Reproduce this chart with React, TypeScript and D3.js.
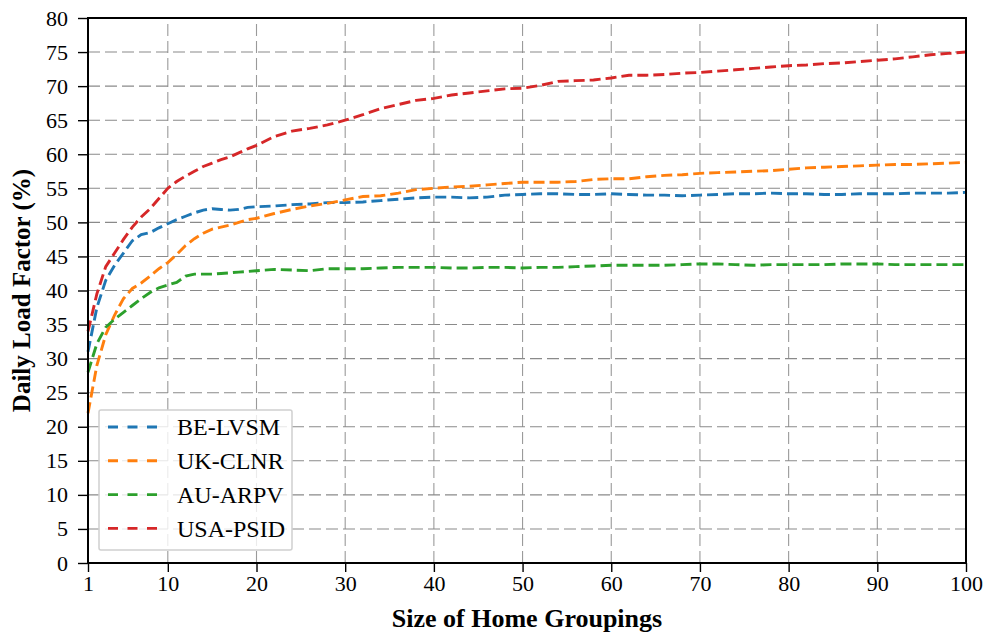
import React, { useEffect, useRef } from "react";
import * as d3 from "d3";

// Group sizes (x values) shared by all series
const groupSizes = [
  1, 2, 3, 4, 5, 6, 7, 8, 9, 10, 11, 12, 13, 14, 15, 16, 17, 18, 19, 20,
  22, 24, 26, 28, 30, 32, 34, 36, 38, 40, 42, 44, 46, 48, 50, 52, 54, 56, 58, 60,
  62, 64, 66, 68, 70, 72, 74, 76, 78, 80, 82, 84, 86, 88, 90, 92, 94, 96, 98, 100,
];

// Daily load factor (%) per dataset
const beLvsm = [
  31.0, 37.5, 41.5, 43.7, 45.5, 47.3, 48.2, 48.5, 49.2, 49.8, 50.4, 50.9, 51.4, 51.8, 52.0, 51.9, 51.8, 51.9, 52.2, 52.3,
  52.4, 52.6, 52.7, 52.9, 52.9, 53.0, 53.2, 53.4, 53.6, 53.7, 53.7, 53.6, 53.7, 54.0, 54.1, 54.2, 54.2, 54.1, 54.1, 54.2,
  54.1, 54.0, 54.0, 53.9, 54.0, 54.1, 54.2, 54.2, 54.3, 54.2, 54.2, 54.1, 54.1, 54.2, 54.2, 54.2, 54.3, 54.3, 54.3, 54.4,
];
const ukClnr = [
  22.0, 29.0, 33.5, 36.4, 38.8, 40.3, 41.1, 42.1, 43.2, 44.1, 45.3, 46.6, 47.6, 48.4, 49.0, 49.3, 49.6, 50.0, 50.4, 50.6,
  51.3, 51.9, 52.4, 52.8, 53.3, 53.8, 53.9, 54.3, 54.8, 55.0, 55.2, 55.3, 55.5, 55.7, 55.9, 55.9, 55.9, 56.0, 56.3, 56.4,
  56.4, 56.7, 56.9, 57.0, 57.2, 57.3, 57.4, 57.5, 57.6, 57.8, 58.0, 58.1, 58.2, 58.3, 58.4, 58.5, 58.5, 58.6, 58.7, 58.8,
];
const auArpv = [
  28.0, 32.2, 34.6, 35.8, 36.8, 37.8, 38.8, 39.7, 40.4, 40.8, 41.2, 42.1, 42.4, 42.4, 42.4, 42.5, 42.6, 42.7, 42.8, 42.9,
  43.1, 43.0, 42.9, 43.2, 43.2, 43.2, 43.3, 43.4, 43.4, 43.4, 43.3, 43.3, 43.4, 43.4, 43.3, 43.4, 43.4, 43.5, 43.6, 43.7,
  43.7, 43.7, 43.7, 43.8, 43.9, 43.9, 43.8, 43.7, 43.8, 43.8, 43.8, 43.8, 43.9, 43.9, 43.9, 43.8, 43.8, 43.8, 43.8, 43.8,
];
const usaPsid = [
  34.0, 39.5, 43.5, 45.5, 47.5, 49.3, 50.8, 52.0, 53.5, 55.0, 56.0, 56.8, 57.5, 58.2, 58.7, 59.2, 59.6, 60.2, 60.8, 61.3,
  62.6, 63.4, 63.8, 64.3, 65.0, 65.8, 66.7, 67.3, 67.9, 68.2, 68.7, 69.0, 69.3, 69.6, 69.7, 70.1, 70.7, 70.8, 70.9, 71.2,
  71.6, 71.6, 71.7, 71.9, 72.0, 72.2, 72.4, 72.6, 72.8, 73.0, 73.1, 73.3, 73.4, 73.6, 73.8, 74.0, 74.3, 74.6, 74.8, 75.0,
];

const seriesNames = ["BE-LVSM", "UK-CLNR", "AU-ARPV", "USA-PSID"];
const seriesValues = [beLvsm, ukClnr, auArpv, usaPsid];
const seriesColors = ["#1f77b4", "#ff7f0e", "#2ca02c", "#d62728"];

const xTicks = [1, 10, 20, 30, 40, 50, 60, 70, 80, 90, 100];
const yTicks = d3.range(0, 81, 5);

const W = 985;
const H = 634;
const M = { left: 88, right: 19, top: 18, bottom: 71 };
const FONT = "'Liberation Serif', 'Times New Roman', serif";

export default function App() {
  const ref = useRef<SVGSVGElement>(null);

  useEffect(() => {
    const svg = d3.select(ref.current);
    svg.selectAll("*").remove();

    const x = d3.scaleLinear().domain([1, 100]).range([M.left, W - M.right]);
    const y = d3.scaleLinear().domain([0, 80]).range([H - M.bottom, M.top]);

    const g = svg.append("g");

    // grid
    g.append("g")
      .selectAll("line")
      .data(xTicks)
      .join("line")
      .attr("x1", (d) => x(d))
      .attr("x2", (d) => x(d))
      .attr("y1", y(0))
      .attr("y2", y(80))
      .attr("stroke", "#9a9a9a")
      .attr("stroke-width", 1.1)
      .attr("stroke-dasharray", "12,5");
    g.append("g")
      .selectAll("line")
      .data(yTicks)
      .join("line")
      .attr("x1", x(1))
      .attr("x2", x(100))
      .attr("y1", (d) => y(d))
      .attr("y2", (d) => y(d))
      .attr("stroke", "#8a8a8a")
      .attr("stroke-width", 1.1)
      .attr("stroke-dasharray", "12,5");

    // series lines
    const line = d3
      .line<number>()
      .x((_, i) => x(groupSizes[i]))
      .y((d) => y(d));
    seriesValues.forEach((vals, i) => {
      g.append("path")
        .datum(vals)
        .attr("d", line)
        .attr("fill", "none")
        .attr("stroke", seriesColors[i])
        .attr("stroke-width", 2.9)
        .attr("stroke-dasharray", "11,5");
    });

    // axes
    const xAxis = g
      .append("g")
      .attr("transform", `translate(0,${y(0)})`)
      .call(d3.axisBottom(x).tickValues(xTicks).tickSize(9).tickSizeOuter(0).tickPadding(3));
    const yAxis = g
      .append("g")
      .attr("transform", `translate(${x(1)},0)`)
      .call(d3.axisLeft(y).tickValues(yTicks).tickSize(10).tickSizeOuter(0).tickPadding(10));
    [xAxis, yAxis].forEach((a) => {
      a.select(".domain").remove();
      a.selectAll("line").attr("stroke", "#000").attr("stroke-width", 1.4);
      a.selectAll("text").attr("font-family", FONT).attr("font-size", 22).attr("fill", "#000");
    });

    // frame
    g.append("rect")
      .attr("x", x(1))
      .attr("y", y(80))
      .attr("width", x(100) - x(1))
      .attr("height", y(0) - y(80))
      .attr("fill", "none")
      .attr("stroke", "#000")
      .attr("stroke-width", 2);

    // axis titles
    g.append("text")
      .attr("x", (x(1) + x(100)) / 2)
      .attr("y", 627)
      .attr("text-anchor", "middle")
      .attr("font-family", FONT)
      .attr("font-weight", "bold")
      .attr("font-size", 26)
      .text("Size of Home Groupings");
    g.append("text")
      .attr("transform", `translate(30,${(y(0) + y(80)) / 2}) rotate(-90)`)
      .attr("text-anchor", "middle")
      .attr("font-family", FONT)
      .attr("font-weight", "bold")
      .attr("font-size", 25)
      .text("Daily Load Factor (%)");

    // legend
    const lg = g.append("g").attr("transform", `translate(99,410)`);
    lg.append("rect")
      .attr("width", 193)
      .attr("height", 140)
      .attr("rx", 2)
      .attr("fill", "#fff")
      .attr("fill-opacity", 0.8)
      .attr("stroke", "#d0d0d0")
      .attr("stroke-width", 1.5);
    seriesNames.forEach((name, i) => {
      const cy = 17 + i * 33.8;
      lg.append("line")
        .attr("x1", 9)
        .attr("x2", 58)
        .attr("y1", cy)
        .attr("y2", cy)
        .attr("stroke", seriesColors[i])
        .attr("stroke-width", 2.9)
        .attr("stroke-dasharray", "10,9.5");
      lg.append("text")
        .attr("x", 78)
        .attr("y", cy)
        .attr("dy", "0.35em")
        .attr("font-family", FONT)
        .attr("font-size", 24)
        .text(name);
    });
  }, []);

  return (
    <svg
      ref={ref}
      width={W}
      height={H}
      style={{ position: "absolute", left: 0, top: 0, background: "#fff" }}
    />
  );
}
